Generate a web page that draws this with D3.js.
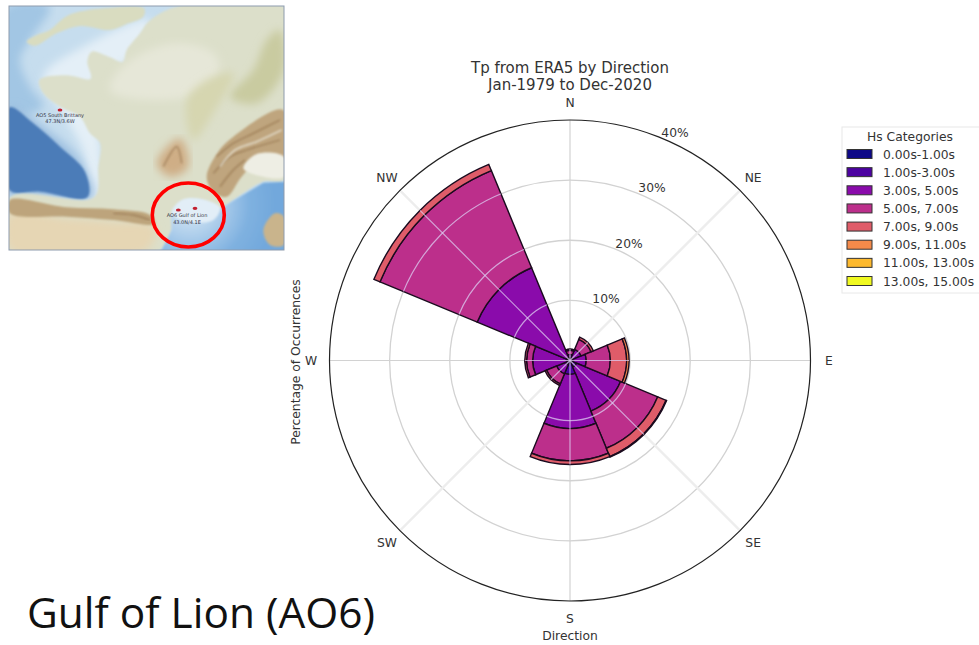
<!DOCTYPE html>
<html><head><meta charset="utf-8">
<script src="https://cdn.jsdelivr.net/npm/d3@7/dist/d3.min.js"></script>
<style>html,body{margin:0;padding:0;background:#fff}svg{display:block}text{font-family:"DejaVu Sans",sans-serif}</style>
</head><body><svg id="c" width="979" height="645"></svg>
<script>
const directions=["N","NE","E","SE","S","SW","W","NW"];
const binLabels=["0.00s-1.00s","1.00s-3.00s","3.00s, 5.00s","5.00s, 7.00s","7.00s, 9.00s","9.00s, 11.00s","11.00s, 13.00s","13.00s, 15.00s"];
const binColors=["#0d0887","#4c02a1","#8a0bab","#bc2f8b","#df5c69","#f48a4a","#fdb92e","#f0f921"];
// share of occurrences (%) for each Hs bin, in the order of `directions`
const bin0=[0.1,0.1,0.1,0.2,0.4,0.2,0.1,0.1];
const bin1=[0.4,0.4,0.4,1.0,1.9,0.6,0.4,0.5];
const bin2=[0.5,1.5,2.2,7.9,9.0,1.6,5.7,16.1];
const bin3=[0.7,1.8,4.0,6.7,5.4,1.8,1.0,17.5];
const bin4=[0.2,0.4,2.7,1.5,0.6,0.3,0.3,1.1];
const bin5=[0,0,0.4,0.1,0,0,0,0];
const bin6=[0,0,0,0,0,0,0,0];
const bin7=[0,0,0,0,0,0,0,0];
const bins=[bin0,bin1,bin2,bin3,bin4,bin5,bin6,bin7];
const ringTicks=[10,20,30,40];
const titleLines=["Tp from ERA5 by Direction","Jan-1979 to Dec-2020"];

// inset map outlines (decorative, in map-image units)
const atlantic=[[20,20],[150,20],[90,120],[60,180],[90,260],[130,320],[20,340]];
const channelPale=[[130,230],[250,140],[450,60],[400,170],[290,240],[300,430],[300,595],[262,595],[255,470],[190,340]];
const englandShape=[[80,125],[110,105],[150,90],[190,55],[220,40],[310,25],[432,25],[430,50],[385,70],[330,90],[240,78],[170,100],[105,137]];
const franceShape=[[445,65],[420,100],[380,150],[368,186],[330,172],[275,155],[262,185],[272,236],[200,226],[118,240],[130,280],[180,320],[240,350],[270,400],[300,430],[295,500],[282,592],[30,592],[30,750],[480,750],[515,690],[515,640],[545,605],[600,600],[660,625],[700,600],[790,545],[852,540],[852,20],[530,20]];
const deepSea=[[28,322],[100,370],[180,440],[255,515],[262,592],[120,575],[28,570]];
const midSea=[[28,322],[150,395],[240,480],[280,592],[120,590],[28,585]];
const pyrenees=[[30,600],[200,622],[340,628],[450,645],[465,672],[340,660],[200,650],[30,640]];
const spainDry=[[30,640],[200,655],[340,665],[465,680],[440,750],[30,750]];
const alps=[[620,530],[655,455],[700,410],[850,330],[852,520],[780,480],[725,530],[680,590],[640,575]];
const alpsPale=[[730,505],[770,462],[852,470],[852,530],[790,530]];
const massif=[[470,490],[540,415],[565,500],[510,530]];
const jura=[[690,290],[760,210],[800,120],[840,90],[852,210],[770,310]];
const eastHills=[[560,300],[620,240],[700,220],[640,340],[580,420]];
const corsica=[[790,690],[825,640],[852,650],[852,735],[810,735]];
const northPale=[[380,190],[530,130],[650,170],[640,260],[470,300],[330,270]];
const medShallow=[[515,640],[545,600],[600,596],[660,622],[640,660],[560,665]];
const medShape=[[480,760],[515,690],[515,645],[545,608],[600,602],[660,628],[700,602],[790,548],[860,545],[860,760]];
const ridges=[[[650,470],[700,430],[760,400],[840,360]],[[640,520],[690,470],[740,450],[840,420]],[[660,560],[700,510],[735,480]],[[340,640],[400,645],[450,660]],[[490,500],[530,440],[545,490]]];
const paleRidges=[[[660,500],[705,450],[770,425],[845,390]]];

const svg=d3.select("#c");
const defs=svg.append("defs");
defs.append("clipPath").attr("id","mapClip").append("rect").attr("x",9).attr("y",6).attr("width",275).attr("height",244);
defs.append("filter").attr("id","soft").append("feGaussianBlur").attr("stdDeviation",1.2);
defs.append("filter").attr("id","softer").append("feGaussianBlur").attr("stdDeviation",4);
const medG=defs.append("radialGradient").attr("id","medG").attr("gradientUnits","userSpaceOnUse").attr("cx",190).attr("cy",205).attr("r",85);
medG.append("stop").attr("offset",0.2).attr("stop-color","#c4dcf0");
medG.append("stop").attr("offset",0.7).attr("stop-color","#7fb1e0");
medG.append("stop").attr("offset",1).attr("stop-color","#72a8dc");

// ---------- inset map ----------
const mapX=d3.scaleLinear().domain([0,870]).range([0,290]);
const mapY=d3.scaleLinear().domain([0,765]).range([0,255]);
const mapLine=d3.line().x(d=>mapX(d[0])).y(d=>mapY(d[1])).curve(d3.curveCatmullRomClosed.alpha(0.5));
const openLine=d3.line().x(d=>mapX(d[0])).y(d=>mapY(d[1])).curve(d3.curveCatmullRom);
const map=svg.append("g").attr("clip-path","url(#mapClip)");
map.append("rect").attr("x",9).attr("y",6).attr("width",275).attr("height",244).attr("fill","#c6ddee");
const layers=[
 [atlantic,"#a2c6e4","softer"],[channelPale,"#e4eff7","softer"],[midSea,"#9dbfe0","softer"],[deepSea,"#4b7cb8","soft"],
 [englandShape,"#d9dcc0","soft"],[franceShape,"#dcdfca","soft"],
 [northPale,"#e6e7d8","softer"],[jura,"#c9cba0","softer"],[eastHills,"#d6d6b0","softer"],[spainDry,"#e6d6b4","softer"],
 [pyrenees,"#bda47c","soft"],[massif,"#cfae86","softer"],[alps,"#bfa57e","soft"],[alpsPale,"#eeeee4","soft"],
];
layers.forEach(([s,c,f])=>map.append("path").attr("d",mapLine(s)).attr("fill",c).attr("filter",`url(#${f})`));
map.selectAll(".ridge").data(ridges).join("path").attr("class","ridge").attr("d",openLine).attr("fill","none").attr("stroke","#8f6f48").attr("stroke-width",1.8).attr("stroke-opacity",.55).attr("filter","url(#soft)");
map.selectAll(".pale").data(paleRidges).join("path").attr("class","pale").attr("d",openLine).attr("fill","none").attr("stroke","#f0efe6").attr("stroke-width",1.6).attr("stroke-opacity",.7).attr("filter","url(#soft)");
map.append("path").attr("d",d3.line().x(d=>mapX(d[0])).y(d=>mapY(d[1]))(medShape)).attr("fill","url(#medG)").attr("filter","url(#soft)");
map.append("path").attr("d",mapLine(medShallow)).attr("fill","#e2eef7").attr("filter","url(#soft)");
map.append("path").attr("d",mapLine(corsica)).attr("fill","#c9b48c").attr("filter","url(#soft)");
svg.append("rect").attr("x",9).attr("y",6).attr("width",275).attr("height",244).attr("fill","none").attr("stroke","#8e9bad").attr("stroke-width",1);
const markers=[[180,330],[535,630],[585,625]];
svg.selectAll(".mk").data(markers).join("ellipse").attr("class","mk").attr("cx",d=>mapX(d[0])).attr("cy",d=>mapY(d[1])).attr("rx",2.4).attr("ry",1.6).attr("fill","#c2202f");
[["AO5 South Brittany",60,117],["47.3N/3.6W",60,123],["AO6 Gulf of Lion",187,217],["43.0N/4.1E",187,224]].forEach(([t,x,y])=>
 svg.append("text").attr("x",x).attr("y",y).attr("text-anchor","middle").attr("font-size",5).attr("fill","#334").text(t));
svg.append("ellipse").attr("cx",188.3).attr("cy",215).attr("rx",36).attr("ry",32).attr("fill","none").attr("stroke","#f00").attr("stroke-width",3.6);

// ---------- wind-rose style chart ----------
const cx=570,cy=360.5,R=240.5;
const radial=d3.scaleLinear().domain([0,40]).range([0,R]);
const dirBand=d3.scaleBand().domain(directions).range([-Math.PI/8,2*Math.PI-Math.PI/8]);
const midAngle=d=>dirBand(d)+dirBand.bandwidth()/2;
const stackKeys=d3.range(bins.length);
const rows=directions.map((d,i)=>{const r={dir:d};stackKeys.forEach(k=>r[k]=bins[k][i]);return r;});
const series=d3.stack().keys(stackKeys)(rows);
const chart=svg.append("g").attr("transform",`translate(${cx},${cy})`);
// grid under the bars (grey on white)
const gridBelow=chart.append("g").attr("fill","none");
gridBelow.selectAll("circle").data(ringTicks.slice(0,3)).join("circle").attr("r",d=>radial(d)).attr("stroke","#d2d2d2").attr("stroke-width",1.3);
gridBelow.selectAll("line").data(directions).join("line")
  .attr("x2",d=>R*Math.sin(midAngle(d))).attr("y2",d=>-R*Math.cos(midAngle(d)))
  .attr("stroke",(d,i)=>i%2?"#ededed":"#d2d2d2").attr("stroke-width",(d,i)=>i%2?2.4:1.2);
const arc=d3.arc();
const shape=d=>arc({innerRadius:radial(d[0]),outerRadius:radial(d[1]),startAngle:dirBand(d.data.dir),endAngle:dirBand(d.data.dir)+dirBand.bandwidth()});
series.forEach((s,k)=>{
  chart.append("g").selectAll("path").data(s.filter(d=>d[1]>d[0])).join("path")
   .attr("d",shape).attr("fill",binColors[k]).attr("stroke","#1a0a1e").attr("stroke-width",1.4);
});
// the grid shows through the bars as a pale lavender line
const barClip=defs.append("clipPath").attr("id","barClip");
barClip.selectAll("path").data(series.flat().filter(d=>d[1]>d[0])).join("path").attr("d",shape);
const gridOver=chart.append("g").attr("fill","none").attr("clip-path","url(#barClip)");
gridOver.selectAll("circle").data(ringTicks.slice(0,3)).join("circle").attr("r",d=>radial(d)).attr("stroke","#dcccf0").attr("stroke-opacity",.75).attr("stroke-width",1.2);
gridOver.selectAll("line").data(directions).join("line")
  .attr("x2",d=>R*Math.sin(midAngle(d))).attr("y2",d=>-R*Math.cos(midAngle(d)))
  .attr("stroke","#dcccf0").attr("stroke-opacity",.75).attr("stroke-width",1.2);
chart.append("circle").attr("r",R).attr("fill","none").attr("stroke","#222").attr("stroke-width",1.2);

const labelColor="#333";
chart.selectAll("text.d").data(directions).join("text").attr("class","d")
  .attr("x",d=>259*Math.sin(midAngle(d))).attr("y",d=>-258*Math.cos(midAngle(d))+4)
  .attr("text-anchor","middle").attr("font-size",12.3).attr("fill",labelColor).text(d=>d);
chart.selectAll("text.t").data(ringTicks).join("text").attr("class","t")
  .attr("x",d=>radial(d)*Math.sin(Math.PI/8)+13).attr("y",d=>-radial(d)*Math.cos(Math.PI/8)-1.5)
  .attr("text-anchor","middle").attr("font-size",12.3).attr("fill",labelColor).text(d=>d+"%");
titleLines.forEach((t,i)=>svg.append("text").attr("x",570).attr("y",73+i*17).attr("text-anchor","middle").attr("font-size",15).attr("fill",labelColor).text(t));
svg.append("text").attr("x",570).attr("y",640).attr("text-anchor","middle").attr("font-size",12.3).attr("fill",labelColor).text("Direction");
svg.append("text").attr("transform","translate(300,362) rotate(-90)").attr("text-anchor","middle").attr("font-size",12.3).attr("fill",labelColor).text("Percentage of Occurrences");

// ---------- legend ----------
const legend=svg.append("g");
legend.append("rect").attr("x",842).attr("y",127).attr("width",140).attr("height",166).attr("fill","#fff").attr("stroke","#e8e8e8");
legend.append("text").attr("x",910).attr("y",141).attr("text-anchor","middle").attr("font-size",12.3).attr("fill",labelColor).text("Hs Categories");
const rowY=d3.scalePoint().domain(binLabels).range([154,281]);
legend.selectAll("rect.s").data(binLabels).join("rect").attr("class","s")
  .attr("x",847).attr("y",d=>rowY(d)-4.5).attr("width",25).attr("height",9)
  .attr("fill",(d,i)=>binColors[i]).attr("stroke","#333").attr("stroke-width",1);
legend.selectAll("text.l").data(binLabels).join("text").attr("class","l")
  .attr("x",883).attr("y",d=>rowY(d)+4.5).attr("font-size",12.3).attr("fill",labelColor).text(d=>d);

svg.append("text").attr("x",27).attr("y",628).attr("font-size",42.4).attr("fill","#111").style("font-family","'Open Sans', sans-serif").text("Gulf of Lion (AO6)");
</script></body></html>
